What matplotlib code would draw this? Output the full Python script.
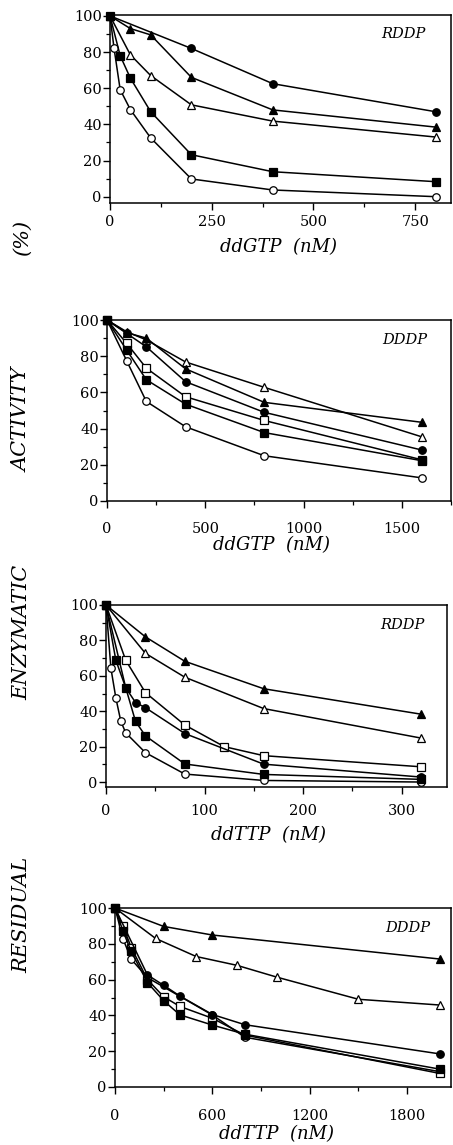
import matplotlib
matplotlib.use("Agg")
import matplotlib.pyplot as plt
from matplotlib.ticker import MultipleLocator

plt.rcParams['font.family'] = ['DejaVu Serif']

# ---- panel 1: RDDP, ddGTP ----
p1_fc_x = [0, 200, 400, 800]
p1_fc_y = [100, 82, 62.5, 47]
p1_ft_x = [0, 50, 100, 200, 400, 800]
p1_ft_y = [100, 93, 89.5, 66, 48, 38.5]
p1_ot_x = [0, 50, 100, 200, 400, 800]
p1_ot_y = [100, 78.5, 67, 50.8, 41.8, 33]
p1_fs_x = [0, 25, 50, 100, 200, 400, 800]
p1_fs_y = [100, 78, 65.6, 47, 23.2, 13.8, 8.3]
p1_oc_x = [0, 10, 25, 50, 100, 200, 400, 800]
p1_oc_y = [100, 82, 59.2, 48.2, 32.5, 9.8, 3.7, 0]

# ---- panel 2: DDDP, ddGTP ----
p2_x = [0, 100, 200, 400, 800, 1600]
p2_ot_y = [100, 93.5, 89, 76.8, 62.8, 35.5]
p2_ft_y = [100, 93, 90, 73, 54.5, 43.5]
p2_fc_y = [100, 92.6, 85.2, 65.9, 49, 28.2]
p2_os_y = [100, 87.1, 73.4, 57.6, 44.5, 22.8]
p2_fs_y = [100, 83.4, 67, 53.5, 37.8, 22.3]
p2_oc_y = [100, 77.5, 55, 41, 25, 12.8]

# ---- panel 3: RDDP, ddTTP ----
p3_ft_x = [0, 40, 80, 160, 320]
p3_ft_y = [100, 82, 68.2, 52.7, 38.3]
p3_ot_x = [0, 40, 80, 160, 320]
p3_ot_y = [100, 72.7, 59.2, 41.5, 24.8]
p3_os_x = [0, 20, 40, 80, 120, 160, 320]
p3_os_y = [100, 68.8, 50.5, 32.2, 20, 14.9, 8.6]
p3_fc_x = [0, 20, 30, 40, 80, 160, 320]
p3_fc_y = [100, 53.3, 44.9, 42, 27.4, 10.1, 2.8]
p3_fs_x = [0, 10, 20, 30, 40, 80, 160, 320]
p3_fs_y = [100, 68.8, 53.3, 34.2, 26.1, 10.2, 4.3, 1.5]
p3_oc_x = [0, 5, 10, 15, 20, 40, 80, 160, 320]
p3_oc_y = [100, 64.2, 47.5, 34.4, 27.8, 16.6, 4.5, 0.9, 0]

# ---- panel 4: DDDP, ddTTP ----
p4_ft_x = [0, 300, 600, 2000]
p4_ft_y = [100, 89.7, 84.9, 71.5]
p4_ot_x = [0, 250, 500, 750, 1000, 1500, 2000]
p4_ot_y = [100, 83, 72.9, 68, 61.3, 49, 45.8]
p4_fc_x = [0, 200, 300, 400, 600, 800, 2000]
p4_fc_y = [100, 62.6, 56.8, 50.8, 40.5, 34.8, 18.5]
p4_os_x = [0, 50, 100, 200, 300, 400, 600, 800, 2000]
p4_os_y = [100, 89.7, 77.9, 60, 50.4, 45, 38.4, 29, 7.6]
p4_fs_x = [0, 50, 100, 200, 300, 400, 600, 800, 2000]
p4_fs_y = [100, 86.9, 75.7, 58.3, 48.2, 40.3, 34.6, 29.5, 10]
p4_oc_x = [0, 50, 100, 200, 600, 800, 2000]
p4_oc_y = [100, 82.6, 71.4, 61.1, 40.2, 27.8, 8.6]

ytick_vals = [0, 20, 40, 60, 80, 100]
ylabel_words = ['RESIDUAL', 'ENZYMATIC', 'ACTIVITY', '(%)']

# marker styles: filled / open circle, triangle, square
sty = {
    'fc': dict(marker='o', mfc='black'),
    'oc': dict(marker='o', mfc='white'),
    'ft': dict(marker='^', mfc='black'),
    'ot': dict(marker='^', mfc='white'),
    'fs': dict(marker='s', mfc='black'),
    'os': dict(marker='s', mfc='white'),
}

W, H = 453, 1145
fig = plt.figure(figsize=(W / 100, H / 100), dpi=100)


def mkax(l, r, t, b):
    return fig.add_axes([l / W, 1 - b / H, (r - l) / W, (b - t) / H])


def series(ax, x, y, k):
    ax.plot(x, y, color='black', lw=1.1, ms=5.4, mec='black', mew=0.9,
            clip_on=False, zorder=3, **sty[k])


def style_ax(ax, xlim, ylim, xmaj, xmin, pad, lab, lab_x, lab_y, tag, tag_xy):
    ax.set_xlim(*xlim)
    ax.set_ylim(*ylim)
    ax.set_yticks(ytick_vals)
    ax.xaxis.set_major_locator(MultipleLocator(xmaj))
    ax.xaxis.set_minor_locator(MultipleLocator(xmin))
    ax.yaxis.set_minor_locator(MultipleLocator(10))
    ax.tick_params(which='major', direction='out', length=5, width=1,
                   labelsize=10.5, top=False, right=False)
    ax.tick_params(which='minor', direction='out', length=3, width=0.9,
                   top=False, right=False)
    ax.tick_params(axis='y', which='major', pad=1)
    ax.tick_params(axis='x', which='major', pad=pad)
    for s in ax.spines.values():
        s.set_linewidth(1.1)
    ax.set_xlabel(lab, style='italic', fontsize=13, va='center')
    ax.xaxis.set_label_coords(lab_x, lab_y)
    ax.text(tag_xy[0], tag_xy[1], tag, transform=ax.transAxes, style='italic',
            fontsize=10.5, ha='center', va='center')


# panel 1
ax1 = mkax(110, 451, 15, 203)
series(ax1, p1_fc_x, p1_fc_y, 'fc')
series(ax1, p1_ft_x, p1_ft_y, 'ft')
series(ax1, p1_ot_x, p1_ot_y, 'ot')
series(ax1, p1_oc_x, p1_oc_y, 'oc')
series(ax1, p1_fs_x, p1_fs_y, 'fs')
style_ax(ax1, (0, 838), (-3.5, 100.5), 250, 125, 4, 'ddGTP  (nM)', 0.494, -0.236,
         'RDDP', (0.86, 0.9))

# panel 2
ax2 = mkax(107, 451, 320, 501)
series(ax2, p2_x, p2_ot_y, 'ot')
series(ax2, p2_x, p2_ft_y, 'ft')
series(ax2, p2_x, p2_fc_y, 'fc')
series(ax2, p2_x, p2_os_y, 'os')
series(ax2, p2_x, p2_oc_y, 'oc')
series(ax2, p2_x, p2_fs_y, 'fs')
style_ax(ax2, (0, 1750), (0, 100), 500, 250, 10, 'ddGTP  (nM)', 0.477, -0.243,
         'DDDP', (0.865, 0.89))

# panel 3
ax3 = mkax(106, 447, 605, 787)
series(ax3, p3_ft_x, p3_ft_y, 'ft')
series(ax3, p3_ot_x, p3_ot_y, 'ot')
series(ax3, p3_os_x, p3_os_y, 'os')
series(ax3, p3_oc_x, p3_oc_y, 'oc')
series(ax3, p3_fc_x, p3_fc_y, 'fc')
series(ax3, p3_fs_x, p3_fs_y, 'fs')
style_ax(ax3, (0, 346), (-2.8, 100), 100, 50, 7, 'ddTTP  (nM)', 0.478, -0.264,
         'RDDP', (0.87, 0.89))

# panel 4
ax4 = mkax(115, 451, 908, 1087)
series(ax4, p4_ft_x, p4_ft_y, 'ft')
series(ax4, p4_ot_x, p4_ot_y, 'ot')
series(ax4, p4_oc_x, p4_oc_y, 'oc')
series(ax4, p4_os_x, p4_os_y, 'os')
series(ax4, p4_fc_x, p4_fc_y, 'fc')
series(ax4, p4_fs_x, p4_fs_y, 'fs')
style_ax(ax4, (0, 2070), (0, 100), 600, 300, 11, 'ddTTP  (nM)', 0.48, -0.262,
         'DDDP', (0.87, 0.89))

# common y label, one word at a time
for w, yc in zip(ylabel_words, [915, 632, 420, 238]):
    fig.text(22 / W, 1 - yc / H, w, rotation=90, style='italic', fontsize=15,
             ha='center', va='center')

fig.savefig('out.png', dpi=100)
